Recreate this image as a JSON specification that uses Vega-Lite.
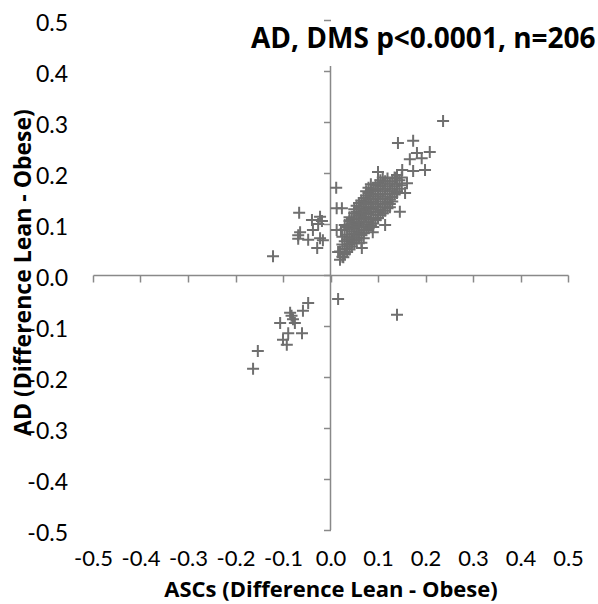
{
  "$schema": "https://vega.github.io/schema/vega-lite/v6.json",
  "width": 475,
  "height": 510,
  "autosize": "none",
  "padding": {"left": 93, "top": 20, "right": 30, "bottom": 74},
  "background": "white",
  "title": {
    "text": "AD, DMS p<0.0001, n=206",
    "anchor": "start",
    "frame": "group",
    "orient": "top",
    "font": "Open Sans",
    "fontSize": 28,
    "fontWeight": "bold",
    "color": "black",
    "baseline": "alphabetic",
    "offset": -64,
    "dx": 158
  },
  "config": {"view": {"stroke": null}},
  "datasets": {
    "pts": [
      {"x": -0.066, "y": 0.122}, {"x": -0.121, "y": 0.037}, {"x": -0.039, "y": 0.108}, {"x": -0.022, "y": 0.114},
      {"x": -0.018, "y": 0.106}, {"x": -0.026, "y": 0.1}, {"x": -0.064, "y": 0.084}, {"x": -0.068, "y": 0.078},
      {"x": -0.037, "y": 0.088}, {"x": -0.047, "y": 0.069}, {"x": -0.022, "y": 0.072}, {"x": -0.016, "y": 0.068},
      {"x": -0.028, "y": 0.053}, {"x": -0.068, "y": 0.071},
      {"x": -0.047, "y": -0.055}, {"x": -0.058, "y": -0.07}, {"x": -0.085, "y": -0.074}, {"x": -0.106, "y": -0.094},
      {"x": -0.079, "y": -0.087}, {"x": -0.075, "y": -0.094}, {"x": -0.089, "y": -0.114}, {"x": -0.06, "y": -0.114},
      {"x": -0.1, "y": -0.127}, {"x": -0.092, "y": -0.137}, {"x": -0.153, "y": -0.149}, {"x": -0.163, "y": -0.184},
      {"x": -0.082, "y": -0.08},
      {"x": 0.016, "y": -0.047}, {"x": 0.14, "y": -0.078},
      {"x": 0.012, "y": 0.171}, {"x": 0.013, "y": 0.131}, {"x": 0.024, "y": 0.131}, {"x": 0.013, "y": 0.088},
      {"x": 0.022, "y": 0.088}, {"x": 0.016, "y": 0.045}, {"x": 0.027, "y": 0.035},
      {"x": 0.237, "y": 0.302}, {"x": 0.142, "y": 0.259}, {"x": 0.174, "y": 0.263}, {"x": 0.209, "y": 0.241},
      {"x": 0.182, "y": 0.239}, {"x": 0.167, "y": 0.227}, {"x": 0.192, "y": 0.229}, {"x": 0.199, "y": 0.206},
      {"x": 0.174, "y": 0.204}, {"x": 0.151, "y": 0.206}, {"x": 0.157, "y": 0.161}, {"x": 0.1, "y": 0.202},
      {"x": 0.161, "y": 0.18}, {"x": 0.146, "y": 0.124}, {"x": 0.115, "y": 0.098}, {"x": 0.089, "y": 0.084},
      {"x": 0.066, "y": 0.053}, {"x": 0.136, "y": 0.19}, {"x": 0.125, "y": 0.133}, {"x": 0.14, "y": 0.161},
      {"x": 0.02, "y": 0.03}, {"x": 0.02, "y": 0.046},
      {"x": 0.025, "y": 0.06}, {"x": 0.025, "y": 0.036}, {"x": 0.025, "y": 0.075},
      {"x": 0.03, "y": 0.051}, {"x": 0.03, "y": 0.066}, {"x": 0.03, "y": 0.089}, {"x": 0.03, "y": 0.041}, {"x": 0.03, "y": 0.098},
      {"x": 0.035, "y": 0.056}, {"x": 0.035, "y": 0.079}, {"x": 0.035, "y": 0.07}, {"x": 0.035, "y": 0.094}, {"x": 0.035, "y": 0.045},
      {"x": 0.04, "y": 0.061}, {"x": 0.04, "y": 0.074}, {"x": 0.04, "y": 0.091}, {"x": 0.04, "y": 0.106}, {"x": 0.04, "y": 0.05}, {"x": 0.04, "y": 0.113},
      {"x": 0.045, "y": 0.069}, {"x": 0.045, "y": 0.086}, {"x": 0.045, "y": 0.1}, {"x": 0.045, "y": 0.064}, {"x": 0.045, "y": 0.11}, {"x": 0.045, "y": 0.056},
      {"x": 0.05, "y": 0.074}, {"x": 0.05, "y": 0.091}, {"x": 0.05, "y": 0.104}, {"x": 0.05, "y": 0.121}, {"x": 0.05, "y": 0.062}, {"x": 0.05, "y": 0.081}, {"x": 0.05, "y": 0.129},
      {"x": 0.055, "y": 0.079}, {"x": 0.055, "y": 0.096}, {"x": 0.055, "y": 0.111}, {"x": 0.055, "y": 0.124}, {"x": 0.055, "y": 0.068}, {"x": 0.055, "y": 0.101}, {"x": 0.055, "y": 0.136},
      {"x": 0.06, "y": 0.084}, {"x": 0.06, "y": 0.099}, {"x": 0.06, "y": 0.116}, {"x": 0.06, "y": 0.131}, {"x": 0.06, "y": 0.073}, {"x": 0.06, "y": 0.141}, {"x": 0.06, "y": 0.094}, {"x": 0.06, "y": 0.121},
      {"x": 0.065, "y": 0.089}, {"x": 0.065, "y": 0.104}, {"x": 0.065, "y": 0.119}, {"x": 0.065, "y": 0.134}, {"x": 0.065, "y": 0.078}, {"x": 0.065, "y": 0.146}, {"x": 0.065, "y": 0.111}, {"x": 0.065, "y": 0.063},
      {"x": 0.07, "y": 0.094}, {"x": 0.07, "y": 0.109}, {"x": 0.07, "y": 0.126}, {"x": 0.07, "y": 0.139}, {"x": 0.07, "y": 0.082}, {"x": 0.07, "y": 0.151}, {"x": 0.07, "y": 0.114}, {"x": 0.07, "y": 0.072},
      {"x": 0.075, "y": 0.099}, {"x": 0.075, "y": 0.114}, {"x": 0.075, "y": 0.129}, {"x": 0.075, "y": 0.144}, {"x": 0.075, "y": 0.088}, {"x": 0.075, "y": 0.156}, {"x": 0.075, "y": 0.121}, {"x": 0.075, "y": 0.164},
      {"x": 0.08, "y": 0.104}, {"x": 0.08, "y": 0.119}, {"x": 0.08, "y": 0.134}, {"x": 0.08, "y": 0.149}, {"x": 0.08, "y": 0.092}, {"x": 0.08, "y": 0.161}, {"x": 0.08, "y": 0.141}, {"x": 0.08, "y": 0.171},
      {"x": 0.085, "y": 0.109}, {"x": 0.085, "y": 0.124}, {"x": 0.085, "y": 0.139}, {"x": 0.085, "y": 0.154}, {"x": 0.085, "y": 0.097}, {"x": 0.085, "y": 0.166}, {"x": 0.085, "y": 0.131}, {"x": 0.085, "y": 0.178},
      {"x": 0.09, "y": 0.111}, {"x": 0.09, "y": 0.129}, {"x": 0.09, "y": 0.144}, {"x": 0.09, "y": 0.159}, {"x": 0.09, "y": 0.101}, {"x": 0.09, "y": 0.169}, {"x": 0.09, "y": 0.094},
      {"x": 0.095, "y": 0.118}, {"x": 0.095, "y": 0.134}, {"x": 0.095, "y": 0.149}, {"x": 0.095, "y": 0.164}, {"x": 0.095, "y": 0.108}, {"x": 0.095, "y": 0.176}, {"x": 0.095, "y": 0.139},
      {"x": 0.1, "y": 0.123}, {"x": 0.1, "y": 0.139}, {"x": 0.1, "y": 0.154}, {"x": 0.1, "y": 0.169}, {"x": 0.1, "y": 0.112}, {"x": 0.1, "y": 0.181}, {"x": 0.1, "y": 0.159},
      {"x": 0.105, "y": 0.128}, {"x": 0.105, "y": 0.144}, {"x": 0.105, "y": 0.159}, {"x": 0.105, "y": 0.174}, {"x": 0.105, "y": 0.117}, {"x": 0.105, "y": 0.186},
      {"x": 0.11, "y": 0.133}, {"x": 0.11, "y": 0.149}, {"x": 0.11, "y": 0.164}, {"x": 0.11, "y": 0.179}, {"x": 0.11, "y": 0.121}, {"x": 0.11, "y": 0.191},
      {"x": 0.115, "y": 0.138}, {"x": 0.115, "y": 0.154}, {"x": 0.115, "y": 0.169}, {"x": 0.115, "y": 0.184}, {"x": 0.115, "y": 0.126},
      {"x": 0.12, "y": 0.143}, {"x": 0.12, "y": 0.159}, {"x": 0.12, "y": 0.174}, {"x": 0.12, "y": 0.189}, {"x": 0.12, "y": 0.131},
      {"x": 0.125, "y": 0.148}, {"x": 0.125, "y": 0.164}, {"x": 0.125, "y": 0.179}, {"x": 0.125, "y": 0.139},
      {"x": 0.13, "y": 0.153}, {"x": 0.13, "y": 0.169}, {"x": 0.13, "y": 0.184}, {"x": 0.13, "y": 0.144},
      {"x": 0.135, "y": 0.158}, {"x": 0.135, "y": 0.174}, {"x": 0.135, "y": 0.191},
      {"x": 0.14, "y": 0.164}, {"x": 0.14, "y": 0.179}, {"x": 0.14, "y": 0.196},
      {"x": 0.145, "y": 0.169}, {"x": 0.145, "y": 0.186},
      {"x": 0.15, "y": 0.176}, {"x": 0.15, "y": 0.191}
    ],
    "vline": [{"x": 0, "y": -0.5, "y2": 0.41}]
  },
  "layer": [
    {
      "data": {"name": "vline"},
      "mark": {"type": "rule", "color": "#898989", "strokeWidth": 1.5},
      "encoding": {
        "x": {"field": "x", "type": "quantitative", "scale": {"domain": [-0.5, 0.5], "nice": false, "zero": false}},
        "y": {"field": "y", "type": "quantitative", "scale": {"domain": [-0.5, 0.5], "nice": false, "zero": false}},
        "y2": {"field": "y2"}
      }
    },
    {
      "data": {"name": "pts"},
      "mark": {"type": "point", "shape": "M-1,0L1,0M0,-1L0,1", "filled": false, "stroke": "#6f6f6f", "strokeWidth": 2, "size": 144, "opacity": 1},
      "encoding": {
        "x": {
          "field": "x", "type": "quantitative",
          "scale": {"domain": [-0.5, 0.5], "nice": false, "zero": false},
          "axis": {
            "orient": "bottom", "offset": -255,
            "values": [-0.5, -0.4, -0.3, -0.2, -0.1, 0, 0.1, 0.2, 0.3, 0.4, 0.5],
            "labelExpr": "replace(format(datum.value, '.1f'), '\u2212', '-')",
            "grid": false,
            "domain": true, "domainColor": "#898989", "domainWidth": 1.5,
            "ticks": true, "tickColor": "#898989", "tickWidth": 1.5, "tickSize": 7,
            "labelPadding": 266, "labelFont": "Lato", "labelFontSize": 22, "labelColor": "black",
            "labelOverlap": false, "labelFlush": false, "labelBound": false,
            "title": "ASCs (Difference Lean - Obese)",
            "titleFont": "Open Sans", "titleFontSize": 22, "titleFontWeight": "bold", "titleColor": "black",
            "titleY": 314, "titleBaseline": "middle"
          }
        },
        "y": {
          "field": "y", "type": "quantitative",
          "scale": {"domain": [-0.5, 0.5], "nice": false, "zero": false},
          "axis": {
            "orient": "left", "offset": -237.5,
            "values": [-0.5, -0.4, -0.3, -0.2, -0.1, 0, 0.1, 0.2, 0.3, 0.4, 0.5],
            "labelExpr": "replace(format(datum.value, '.1f'), '\u2212', '-')",
            "grid": false,
            "domain": false,
            "ticks": true, "tickColor": "#898989", "tickWidth": 1.5, "tickSize": 7,
            "labelPadding": 256, "labelOffset": 3, "labelFont": "Lato", "labelFontSize": 23, "labelColor": "black",
            "labelOverlap": false, "labelFlush": false, "labelBound": false,
            "title": "AD (Difference Lean - Obese)",
            "titleFont": "Open Sans", "titleFontSize": 23, "titleFontWeight": "bold", "titleColor": "black",
            "titleX": -307, "titleY": 252, "titleBaseline": "middle", "titleAngle": -90
          }
        }
      }
    }
  ]
}
